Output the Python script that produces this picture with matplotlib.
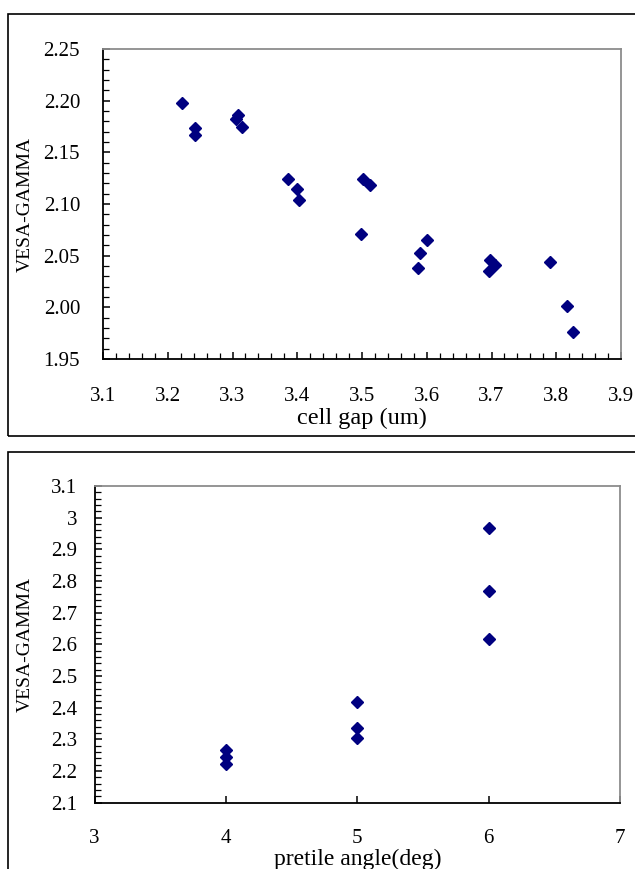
import matplotlib
matplotlib.use("Agg")
import matplotlib.pyplot as plt
from matplotlib.patches import Rectangle
from matplotlib.ticker import MultipleLocator, FormatStrFormatter, FuncFormatter

plt.rcParams['font.family'] = ['Liberation Serif', 'DejaVu Serif']

# cell gap vs VESA gamma
cell_gap = [3.222, 3.242, 3.242, 3.308, 3.305, 3.314, 3.386, 3.400, 3.402,
            3.501, 3.513, 3.498, 3.600, 3.590, 3.587, 3.698, 3.706, 3.696,
            3.790, 3.816, 3.826]
gamma_gap = [2.198, 2.174, 2.167, 2.186, 2.182, 2.175, 2.124, 2.115, 2.104,
             2.124, 2.118, 2.071, 2.065, 2.053, 2.038, 2.046, 2.041, 2.035,
             2.044, 2.001, 1.976]

# pretilt angle vs VESA gamma
pretilt = [4, 4, 4, 5, 5, 5, 6, 6, 6]
gamma_pretilt = [2.267, 2.245, 2.222, 2.418, 2.335, 2.305, 2.968, 2.769, 2.617]

W, H = 635, 869
fig = plt.figure(figsize=(W / 100, H / 100), dpi=100)

def fx(px):
    return px / W

def fy(py):
    return (H - py) / H

# outer chart borders (excel style)
fig.patches.append(Rectangle((fx(8), fy(436)), 1.2, fy(14) - fy(436), transform=fig.transFigure,
                             fill=False, edgecolor='black', linewidth=1.2))
fig.patches.append(Rectangle((fx(8), fy(900)), 1.2, fy(452) - fy(900), transform=fig.transFigure,
                             fill=False, edgecolor='black', linewidth=1.2))

navy = '#000080'

def style(ax):
    for s in ['left', 'bottom']:
        ax.spines[s].set_color('black')
        ax.spines[s].set_linewidth(1.3)
    for s in ['top', 'right']:
        ax.spines[s].set_color('#8c8c8c')
        ax.spines[s].set_linewidth(1.3)
    ax.tick_params(which='both', direction='in', color='black', labelsize=15)
    ax.tick_params(which='major', length=5, width=1.1)
    ax.tick_params(which='minor', length=4, width=0.9)

# top chart
ax1 = fig.add_axes([fx(103), fy(359), fx(621) - fx(103), fy(49) - fy(359)])
ax1.plot(cell_gap, gamma_gap, linestyle='none', marker='D', markersize=5.8, color=navy)
ax1.set_xlim(3.1, 3.9)
ax1.set_ylim(1.95, 2.25)
ax1.xaxis.set_major_locator(MultipleLocator(0.1))
ax1.xaxis.set_minor_locator(MultipleLocator(0.02))
ax1.yaxis.set_major_locator(MultipleLocator(0.05))
ax1.yaxis.set_minor_locator(MultipleLocator(0.01))
ax1.xaxis.set_major_formatter(FormatStrFormatter('%.1f'))
ax1.yaxis.set_major_formatter(FormatStrFormatter('%.2f'))
style(ax1)
ax1.tick_params(axis='x', which='major', pad=20)
ax1.tick_params(axis='y', which='major', pad=16.5)
ax1.set_xlabel('cell gap (um)', fontsize=17.5)
ax1.set_ylabel('VESA-GAMMA', fontsize=14)
ax1.xaxis.set_label_coords(0.5, -0.158)
ax1.yaxis.set_label_coords(-0.133, 0.5)

# bottom chart
ax2 = fig.add_axes([fx(94.5), fy(802.5), fx(620) - fx(94.5), fy(486) - fy(802.5)])
ax2.plot(pretilt, gamma_pretilt, linestyle='none', marker='D', markersize=5.8, color=navy)
ax2.set_xlim(3, 7)
ax2.set_ylim(2.1, 3.1)
ax2.xaxis.set_major_locator(MultipleLocator(1))
ax2.yaxis.set_major_locator(MultipleLocator(0.1))
ax2.yaxis.set_minor_locator(MultipleLocator(0.02))
ax2.yaxis.set_major_formatter(FuncFormatter(lambda v, p: ('%.1f' % v).rstrip('0').rstrip('.')))
style(ax2)
ax2.tick_params(axis='x', which='major', pad=19)
ax2.tick_params(axis='y', which='major', pad=12.5)
ax2.set_xlabel('pretile angle(deg)', fontsize=17)
ax2.set_ylabel('VESA-GAMMA', fontsize=14)
ax2.xaxis.set_label_coords(0.5, -0.147)
ax2.yaxis.set_label_coords(-0.115, 0.5)

fig.savefig('out.png', dpi=100)
